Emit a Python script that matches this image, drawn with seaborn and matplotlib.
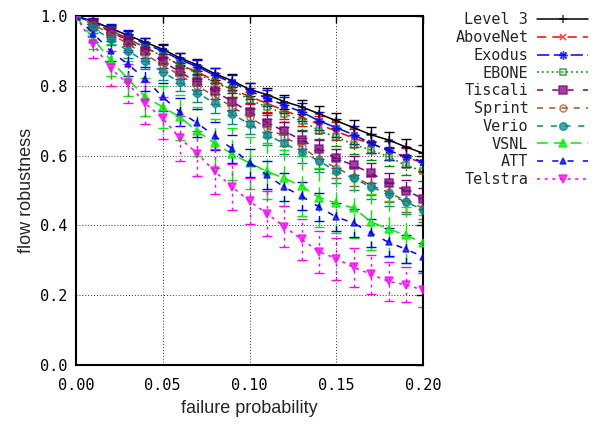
import numpy as np
import pandas as pd
import matplotlib
matplotlib.use('Agg')
import matplotlib.pyplot as plt
from matplotlib.colors import to_rgba
import seaborn as sns

sns.set_style('white')

# failure probability
p = [0.00, 0.01, 0.02, 0.03, 0.04, 0.05, 0.06, 0.07, 0.08, 0.09, 0.10,
     0.11, 0.12, 0.13, 0.14, 0.15, 0.16, 0.17, 0.18, 0.19, 0.20]

names = ['Level 3', 'AboveNet', 'Exodus', 'EBONE', 'Tiscali',
         'Sprint', 'Verio', 'VSNL', 'ATT', 'Telstra']

level3 = [1.0, 0.985, 0.965, 0.945, 0.925, 0.905, 0.88, 0.86, 0.835, 0.815, 0.79,
          0.775, 0.755, 0.74, 0.72, 0.70, 0.68, 0.66, 0.645, 0.625, 0.607]
abovenet = [1.0, 0.98, 0.96, 0.935, 0.91, 0.885, 0.86, 0.84, 0.815, 0.79, 0.77,
            0.75, 0.73, 0.71, 0.69, 0.67, 0.65, 0.635, 0.615, 0.595, 0.58]
exodus = [1.0, 0.985, 0.965, 0.945, 0.92, 0.90, 0.875, 0.855, 0.83, 0.81, 0.785,
          0.765, 0.745, 0.725, 0.70, 0.68, 0.66, 0.635, 0.615, 0.597, 0.583]
ebone = [1.0, 0.98, 0.96, 0.935, 0.91, 0.885, 0.86, 0.835, 0.81, 0.79, 0.76,
         0.74, 0.72, 0.70, 0.672, 0.653, 0.632, 0.616, 0.597, 0.572, 0.556]
tiscali = [1.0, 0.98, 0.955, 0.93, 0.90, 0.87, 0.84, 0.81, 0.785, 0.755, 0.725,
           0.695, 0.67, 0.645, 0.618, 0.592, 0.572, 0.55, 0.522, 0.50, 0.477]
sprint = [1.0, 0.975, 0.95, 0.92, 0.89, 0.86, 0.83, 0.80, 0.77, 0.74, 0.71,
          0.68, 0.655, 0.625, 0.59, 0.565, 0.54, 0.515, 0.495, 0.47, 0.45]
verio = [1.0, 0.965, 0.935, 0.90, 0.87, 0.84, 0.81, 0.78, 0.75, 0.72, 0.69,
         0.66, 0.635, 0.61, 0.585, 0.555, 0.535, 0.51, 0.49, 0.467, 0.445]
vsnl = [1.0, 0.935, 0.874, 0.82, 0.768, 0.74, 0.71, 0.67, 0.636, 0.605, 0.579,
        0.555, 0.535, 0.513, 0.48, 0.464, 0.45, 0.41, 0.39, 0.372, 0.35]
att = [1.0, 0.95, 0.90, 0.862, 0.82, 0.768, 0.725, 0.693, 0.656, 0.62, 0.58,
       0.544, 0.51, 0.484, 0.453, 0.424, 0.407, 0.378, 0.352, 0.332, 0.31]
telstra = [1.0, 0.92, 0.85, 0.807, 0.75, 0.707, 0.65, 0.606, 0.555, 0.51, 0.47,
           0.434, 0.397, 0.36, 0.325, 0.305, 0.28, 0.26, 0.24, 0.23, 0.215]

# error bar half widths
e_level3 = [0, .008, .010, .012, .013, .014, .015, .016, .017, .018, .018,
            .019, .020, .020, .021, .021, .022, .022, .023, .023, .024]
e_abovenet = [0, .010, .013, .015, .017, .018, .019, .020, .021, .022, .023,
              .024, .024, .025, .025, .026, .026, .027, .027, .028, .028]
e_exodus = [0, .010, .013, .015, .017, .018, .019, .020, .021, .022, .023,
            .024, .024, .025, .025, .026, .026, .027, .027, .028, .028]
e_ebone = [0, .010, .013, .015, .017, .018, .019, .020, .021, .022, .023,
           .024, .024, .025, .025, .026, .026, .027, .027, .028, .028]
e_tiscali = [0, .012, .015, .017, .019, .020, .021, .022, .023, .024, .025,
             .026, .026, .027, .027, .028, .028, .029, .029, .030, .030]
e_sprint = [0, .012, .015, .017, .019, .020, .021, .022, .023, .024, .025,
            .026, .026, .027, .027, .028, .028, .029, .029, .030, .030]
e_verio = [0, .014, .018, .020, .022, .024, .025, .026, .027, .028, .029,
           .030, .030, .031, .031, .032, .032, .033, .033, .034, .034]
e_vsnl = [0, .030, .045, .050, .055, .060, .065, .070, .070, .075, .075,
          .080, .080, .085, .085, .085, .085, .080, .080, .080, .080]
e_att = [0, .025, .030, .035, .035, .040, .040, .040, .040, .040, .040,
         .040, .040, .040, .040, .040, .040, .040, .040, .040, .040]
e_telstra = [0, .040, .050, .055, .060, .060, .065, .065, .065, .065, .065,
             .065, .060, .060, .060, .060, .055, .055, .055, .050, .050]

values = [level3, abovenet, exodus, ebone, tiscali, sprint, verio, vsnl, att, telstra]
errors = [e_level3, e_abovenet, e_exodus, e_ebone, e_tiscali, e_sprint, e_verio,
          e_vsnl, e_att, e_telstra]

colors = ['#000000', '#ff0000', '#0000ff', '#008a00', '#800080',
          '#a0522d', '#008b8b', '#00ee00', '#0000ff', '#ff00ff']
styles = ['-', (0, (6, 4)), (0, (8, 3)), (0, (1.2, 2)), (0, (4, 6)),
          (0, (4, 4)), (0, (4, 5)), (0, (7, 4)), (0, (4, 6)), (0, (2, 3))]
markers = ['+', 'x', (8, 2, 0), 's', 's', 'o', 'o', '^', '^', 'v']
filled = [True, True, True, False, True, False, True, True, True, True]
msizes = [6, 5, 6, 5, 5.5, 5, 5.5, 5.5, 5, 5.5]

fig = plt.figure(figsize=(5.97, 4.24), dpi=100)
ax = fig.add_axes([0.127, 0.139, 0.582, 0.823])

handles = []
for name, v, e, c, ls, m, f, ms in zip(names, values, errors, colors, styles,
                                       markers, filled, msizes):
    df = pd.DataFrame({'p': p, 'r': v})
    mc = to_rgba(c, 0.75)
    sns.lineplot(data=df, x='p', y='r', ax=ax, color=c, linestyle=ls, lw=1.1,
                 marker=m, markersize=ms, markeredgecolor=mc,
                 markerfacecolor=mc if f else 'none', markeredgewidth=1.1,
                 label=name, zorder=3)
    handles.append(ax.get_lines()[-1])
    eb = ax.errorbar(p, v, yerr=e, fmt='none', ecolor=c, elinewidth=1.0,
                     capsize=3.5, capthick=1.0, zorder=2)
    eb[2][0].set_linestyle(ls)

ax.set_xlim(0, 0.2)
ax.set_ylim(0, 1.0)
ax.set_xticks([0.0, 0.05, 0.10, 0.15, 0.20])
ax.set_xticklabels(['0.00', '0.05', '0.10', '0.15', '0.20'])
ax.set_yticks([0.0, 0.2, 0.4, 0.6, 0.8, 1.0])
ax.set_yticklabels(['0.0', '0.2', '0.4', '0.6', '0.8', '1.0'])
for lab in ax.get_xticklabels() + ax.get_yticklabels():
    lab.set_family('DejaVu Sans Mono')
    lab.set_fontsize(11)
ax.tick_params(direction='in', length=5, width=1, top=True, right=True,
               colors='black')
ax.tick_params(axis='x', pad=9)
ax.tick_params(axis='y', pad=6)
ax.grid(True, linestyle=(0, (1, 2)), color='black', lw=0.7, alpha=0.8)
for s in ax.spines.values():
    s.set_color('black')
    s.set_linewidth(1.5)

ax.set_xlabel('failure probability', fontsize=13, family='Liberation Sans',
              labelpad=5)
ax.set_ylabel('flow robustness', fontsize=13, family='Liberation Sans')

ax.legend(handles=handles, labels=names, loc='upper right',
          bbox_to_anchor=(0.995, 0.985), bbox_transform=fig.transFigure,
          markerfirst=False, frameon=False, handlelength=3.3,
          handletextpad=0.6, labelspacing=0.18, borderaxespad=0,
          prop={'family': 'DejaVu Sans Mono', 'size': 11})

fig.savefig('out.png', dpi=100)
